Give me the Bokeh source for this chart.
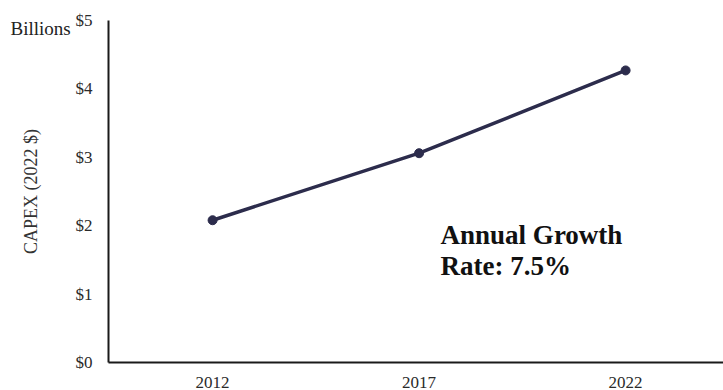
from bokeh.plotting import figure
from bokeh.models import Range1d, FixedTicker, Label, Title
from bokeh.embed import file_html
from bokeh.resources import INLINE

years = [2012, 2017, 2022]
capex = [2.08, 3.06, 4.27]
year_labels = ["2012", "2017", "2022"]
y_ticks = [0, 1, 2, 3, 4, 5]
y_tick_labels = ["$0", "$1", "$2", "$3", "$4", "$5"]

SERIF = "Liberation Serif"
LINE = "#2c2c4c"

p = figure(width=723, height=390, output_backend="svg", toolbar_location=None,
           x_range=Range1d(2009.48, 2024.37), y_range=Range1d(0, 5),
           min_border_left=108, min_border_right=0, min_border_top=20, min_border_bottom=28)
p.outline_line_color = None
p.xgrid.visible = False
p.ygrid.visible = False
p.background_fill_color = "white"

p.line(years, capex, line_color=LINE, line_width=3.5)
p.scatter(years, capex, size=9, fill_color=LINE, line_color=LINE)

p.xaxis.ticker = FixedTicker(ticks=years)
p.xaxis.major_label_overrides = {y: l for y, l in zip(years, year_labels)}
p.yaxis.ticker = FixedTicker(ticks=y_ticks)
p.yaxis.major_label_overrides = {t: l for t, l in zip(y_ticks, y_tick_labels)}

for ax in (p.xaxis, p.yaxis):
    ax.axis_line_color = "#1a1a1a"
    ax.axis_line_width = 2
    ax.major_tick_line_color = None
    ax.minor_tick_line_color = None
    ax.major_label_text_font = SERIF
    ax.major_label_text_font_size = "17px"
    ax.major_label_text_color = "#2a2a2a"

p.xaxis.major_label_standoff = 8
p.yaxis.major_label_standoff = 10
p.yaxis.axis_label = "CAPEX (2022 $)"
p.yaxis.axis_label_text_font = SERIF
p.yaxis.axis_label_text_font_style = "normal"
p.yaxis.axis_label_text_font_size = "18px"
p.yaxis.axis_label_text_color = "#333333"
p.yaxis.axis_label_standoff = 32

# "Billions" unit note, placed as a title left of the frame
p.add_layout(Title(text="Billions", align="left", offset=-98, standoff=-36,
                   text_font=SERIF, text_font_size="19px", text_font_style="normal",
                   text_color="#222222"), "above")

p.add_layout(Label(x=2017.52, y=1.857, text="Annual Growth",
                   text_font=SERIF, text_font_style="bold", text_font_size="27px",
                   text_color="#111111", text_baseline="alphabetic"))
p.add_layout(Label(x=2017.52, y=1.418, text="Rate: 7.5%",
                   text_font=SERIF, text_font_style="bold", text_font_size="27px",
                   text_color="#111111", text_baseline="alphabetic"))

open("out.html", "w").write(file_html(p, INLINE))
